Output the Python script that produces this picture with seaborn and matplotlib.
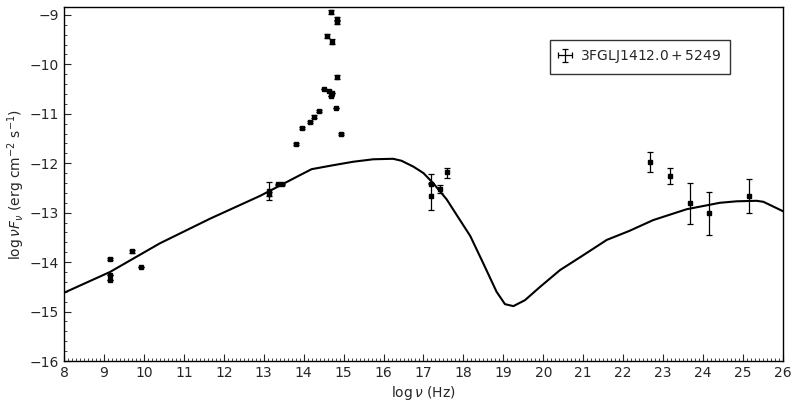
import numpy as np
import pandas as pd
import matplotlib
matplotlib.use("Agg")
import matplotlib.pyplot as plt
from matplotlib.ticker import MultipleLocator
import seaborn as sns

# observed SED points (log nu, log nuFnu, lower / upper errors)
log_nu = [9.15, 9.15, 9.15, 9.70, 9.93,
          13.13, 13.13, 13.36, 13.46,
          13.82, 13.97, 14.17, 14.27, 14.39, 14.51, 14.58, 14.63, 14.68, 14.68,
          14.71, 14.71, 14.82, 14.84, 14.84, 14.84, 14.94,
          17.19, 17.19, 17.41, 17.58,
          22.68, 23.16, 23.67, 24.15, 25.16]
log_flux = [-13.94, -14.26, -14.36, -13.78, -14.10,
            -12.56, -12.62, -12.43, -12.43,
            -11.62, -11.28, -11.17, -11.06, -10.94, -10.50, -9.43, -10.54, -8.95, -10.64,
            -9.54, -10.57, -10.89, -9.08, -9.15, -10.26, -11.41,
            -12.41, -12.66, -12.53, -12.18,
            -11.98, -12.26, -12.81, -13.01, -12.67]
err_lo = [0.02, 0.0, 0.0, 0.03, 0.0,
          0.18, 0.04, 0.02, 0.02,
          0.02, 0.02, 0.02, 0.03, 0.02, 0.0, 0.04, 0.0, 0.04, 0.0,
          0.05, 0.0, 0.0, 0.04, 0.04, 0.04, 0.02,
          0.02, 0.29, 0.07, 0.11,
          0.20, 0.16, 0.42, 0.45, 0.34]
err_hi = [0.02, 0.0, 0.0, 0.03, 0.0,
          0.18, 0.04, 0.02, 0.02,
          0.02, 0.02, 0.02, 0.03, 0.02, 0.0, 0.04, 0.0, 0.04, 0.0,
          0.05, 0.0, 0.0, 0.04, 0.04, 0.04, 0.02,
          0.02, 0.45, 0.08, 0.08,
          0.21, 0.16, 0.42, 0.43, 0.36]

# model curve
model_nu = [8.0, 9.15, 10.40, 11.66, 12.91, 13.91, 14.20, 14.74, 15.24, 15.74,
            16.24, 16.45, 16.75, 17.00, 17.25, 17.58, 17.85, 18.17, 18.50, 18.83,
            19.04, 19.25, 19.54, 19.92, 20.42, 21.00, 21.59, 22.15, 22.75, 23.59,
            24.42, 24.84, 25.34, 25.51, 26.0]
model_flux = [-14.62, -14.20, -13.62, -13.12, -12.66, -12.24, -12.12, -12.04, -11.97, -11.92,
              -11.91, -11.95, -12.07, -12.20, -12.41, -12.73, -13.07, -13.47, -14.03, -14.60,
              -14.85, -14.89, -14.77, -14.50, -14.16, -13.86, -13.55, -13.37, -13.15, -12.93,
              -12.80, -12.77, -12.76, -12.78, -12.97]

model = pd.DataFrame({"nu": model_nu, "flux": model_flux})

sns.set_style("ticks")
plt.rcParams["font.family"] = ["DejaVu Sans"]
plt.rcParams["mathtext.fontset"] = "dejavusans"
plt.rcParams["xtick.direction"] = "in"
plt.rcParams["ytick.direction"] = "in"

fig = plt.figure(figsize=(7.92, 4.07), dpi=100)
ax = fig.add_axes([0.0808, 0.113, 0.9078, 0.8686])

sns.lineplot(data=model, x="nu", y="flux", sort=False, estimator=None,
             color="black", linewidth=1.5, ax=ax)

ax.errorbar(log_nu, log_flux, yerr=[err_lo, err_hi], fmt="s", color="black",
            ms=2.3, elinewidth=0.9, capsize=2.5, capthick=0.9, linestyle="none")
# proxy for the legend entry
ax.errorbar([np.nan], [np.nan], xerr=[1], yerr=[1], fmt="none", ecolor="black",
            elinewidth=0.9, capsize=2.5, capthick=0.9,
            label=r"$\rm 3FGLJ1412.0+5249$")

ax.set_xlim(8, 26)
ax.set_ylim(-16, -8.85)
ax.xaxis.set_major_locator(MultipleLocator(1))
ax.xaxis.set_minor_locator(MultipleLocator(0.1))
ax.yaxis.set_major_locator(MultipleLocator(1))
ax.yaxis.set_minor_locator(MultipleLocator(0.2))
ax.tick_params(which="major", length=5, width=0.8, labelsize=10, top=False, right=False)
ax.tick_params(which="minor", length=2.5, width=0.6, top=False, right=False)
for s in ax.spines.values():
    s.set_linewidth(1.0)
    s.set_color("black")

ax.set_xlabel(r"$\log\nu$ (Hz)", fontsize=10, labelpad=3)
ax.set_ylabel(r"$\log\nu F_\nu$ (erg cm$^{-2}$ s$^{-1}$)", fontsize=10, labelpad=2)

leg = ax.legend(loc="upper right", bbox_to_anchor=(0.9217, 0.9017),
                bbox_transform=fig.transFigure, fancybox=False, frameon=True,
                edgecolor="black", fontsize=10, handlelength=1.0,
                borderpad=0.6, handletextpad=0.6, borderaxespad=0)
leg.get_frame().set_linewidth(1.0)

fig.savefig("out.png", dpi=100)
